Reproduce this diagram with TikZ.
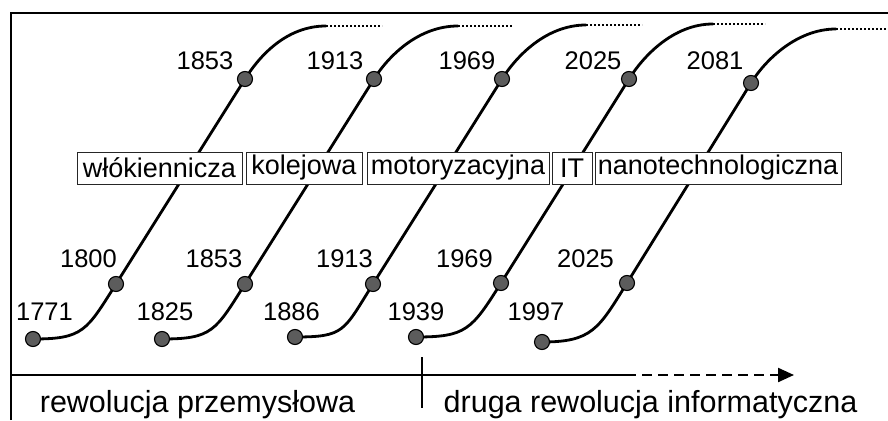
\documentclass[tikz,border=0pt]{standalone}
\usepackage{fontspec}
\setmainfont{Liberation Sans}
\usetikzlibrary{calc,arrows.meta}
\definecolor{dotgray}{HTML}{5C5C5C}
\begin{document}
\begin{tikzpicture}[x=1pt,y=-1pt,
  curve/.style={line width=2.8pt,line cap=round},
  dotline/.style={line width=2.5pt,dash pattern=on 2.2pt off 1.8pt},
  dotnode/.style={circle,draw=black,line width=1.1pt,fill=dotgray,minimum size=15pt,inner sep=0pt},
  year/.style={anchor=base,inner sep=0pt,font=\fontsize{25.5}{30}\selectfont},
  labelbox/.style={draw=black!85,line width=1pt,fill=white,inner xsep=2pt,inner ysep=0pt,minimum height=32pt,font=\fontsize{27}{32}\selectfont},
  frameline/.style={line width=2.8pt},
  axisline/.style={line width=2.3pt},
  bottomtext/.style={anchor=base,inner sep=0pt,font=\fontsize{30.5}{36}\selectfont}]
\useasboundingbox (0,0) rectangle (888,420);
% frame
\coordinate (fbl) at (11,420);
\coordinate (ftr) at (888,13);
\draw[frameline] (fbl) |- (ftr);
% curve points: bottom, lower, upper, top, end of dotted part
\coordinate (b1) at (33,339);  \coordinate (l1) at (116,284); \coordinate (u1) at (245,79);  \coordinate (t1) at (326,26); \coordinate (e1) at (382,26);
\coordinate (b2) at (162,339); \coordinate (l2) at (245,284); \coordinate (u2) at (374,79);  \coordinate (t2) at (458,26); \coordinate (e2) at (512,26);
\coordinate (b3) at (295,337); \coordinate (l3) at (373,284); \coordinate (u3) at (502,79);  \coordinate (t3) at (586,25); \coordinate (e3) at (642,25);
\coordinate (b4) at (416,337); \coordinate (l4) at (501,283); \coordinate (u4) at (629,79);  \coordinate (t4) at (713,24); \coordinate (e4) at (765,24);
\coordinate (b5) at (542,342); \coordinate (l5) at (627,283); \coordinate (u5) at (751,83);  \coordinate (t5) at (836,29); \coordinate (e5) at (888,29);
\foreach \i in {1,...,5}{
  \draw[curve] (b\i) .. controls ($(b\i)+(50,0)$) and ($(l\i)!-0.23!(u\i)$) .. (l\i)
     -- (u\i) .. controls ($(u\i)!-0.11!(l\i)$) and ($(t\i)+(-40,0)$) .. (t\i);
  \draw[dotline] (t\i) -- (e\i);
  \node[dotnode] (db\i) at (b\i) {};
  \node[dotnode] (dl\i) at (l\i) {};
  \node[dotnode] (du\i) at (u\i) {};
}
% years
\node[year] (y1u) at (205,70) {1853};
\node[year] (y2u) at (335,70) {1913};
\node[year] (y3u) at (467,70) {1969};
\node[year] (y4u) at (593,70) {2025};
\node[year] (y5u) at (715,70) {2081};
\node[year] (y1m) at (88.5,267) {1800};
\node[year] (y2m) at (214,267) {1853};
\node[year] (y3m) at (344.5,267) {1913};
\node[year] (y4m) at (464.5,267) {1969};
\node[year] (y5m) at (585.5,267) {2025};
\node[year] (y1b) at (44.5,320) {1771};
\node[year] (y2b) at (165,320) {1825};
\node[year] (y3b) at (291.5,320) {1886};
\node[year] (y4b) at (416,320) {1939};
\node[year] (y5b) at (536,320) {1997};
% boxes
\node[labelbox,minimum width=165pt] (k1) at (159.5,168) {włókiennicza};
\node[labelbox,minimum width=116pt] (k2) at (304,168) {kolejowa};
\node[labelbox,minimum width=182pt] (k3) at (458,168) {motoryzacyjna};
\node[labelbox,minimum width=40pt] (k4) at (572,168) {IT};
\node[labelbox,minimum width=246pt] (k5) at (718,168) {nanotechnologiczna};
% axis
\coordinate (a0) at (11,375);
\coordinate (a1) at (626,375);
\coordinate (a2) at (794,375);
\draw[axisline] (a0) -- (a1);
\draw[axisline,dash pattern=on 10pt off 6pt,-{Triangle[length=16pt,width=14pt]}] (a1) -- (a2);
\coordinate (tk0) at (422,357);
\coordinate (tk1) at (422,408);
\draw[axisline] (tk0) -- (tk1);
\node[bottomtext] (r1) at (197.5,412) {rewolucja przemysłowa};
\node[bottomtext] (r2) at (650.5,412) {druga rewolucja informatyczna};
\end{tikzpicture}
\end{document}
